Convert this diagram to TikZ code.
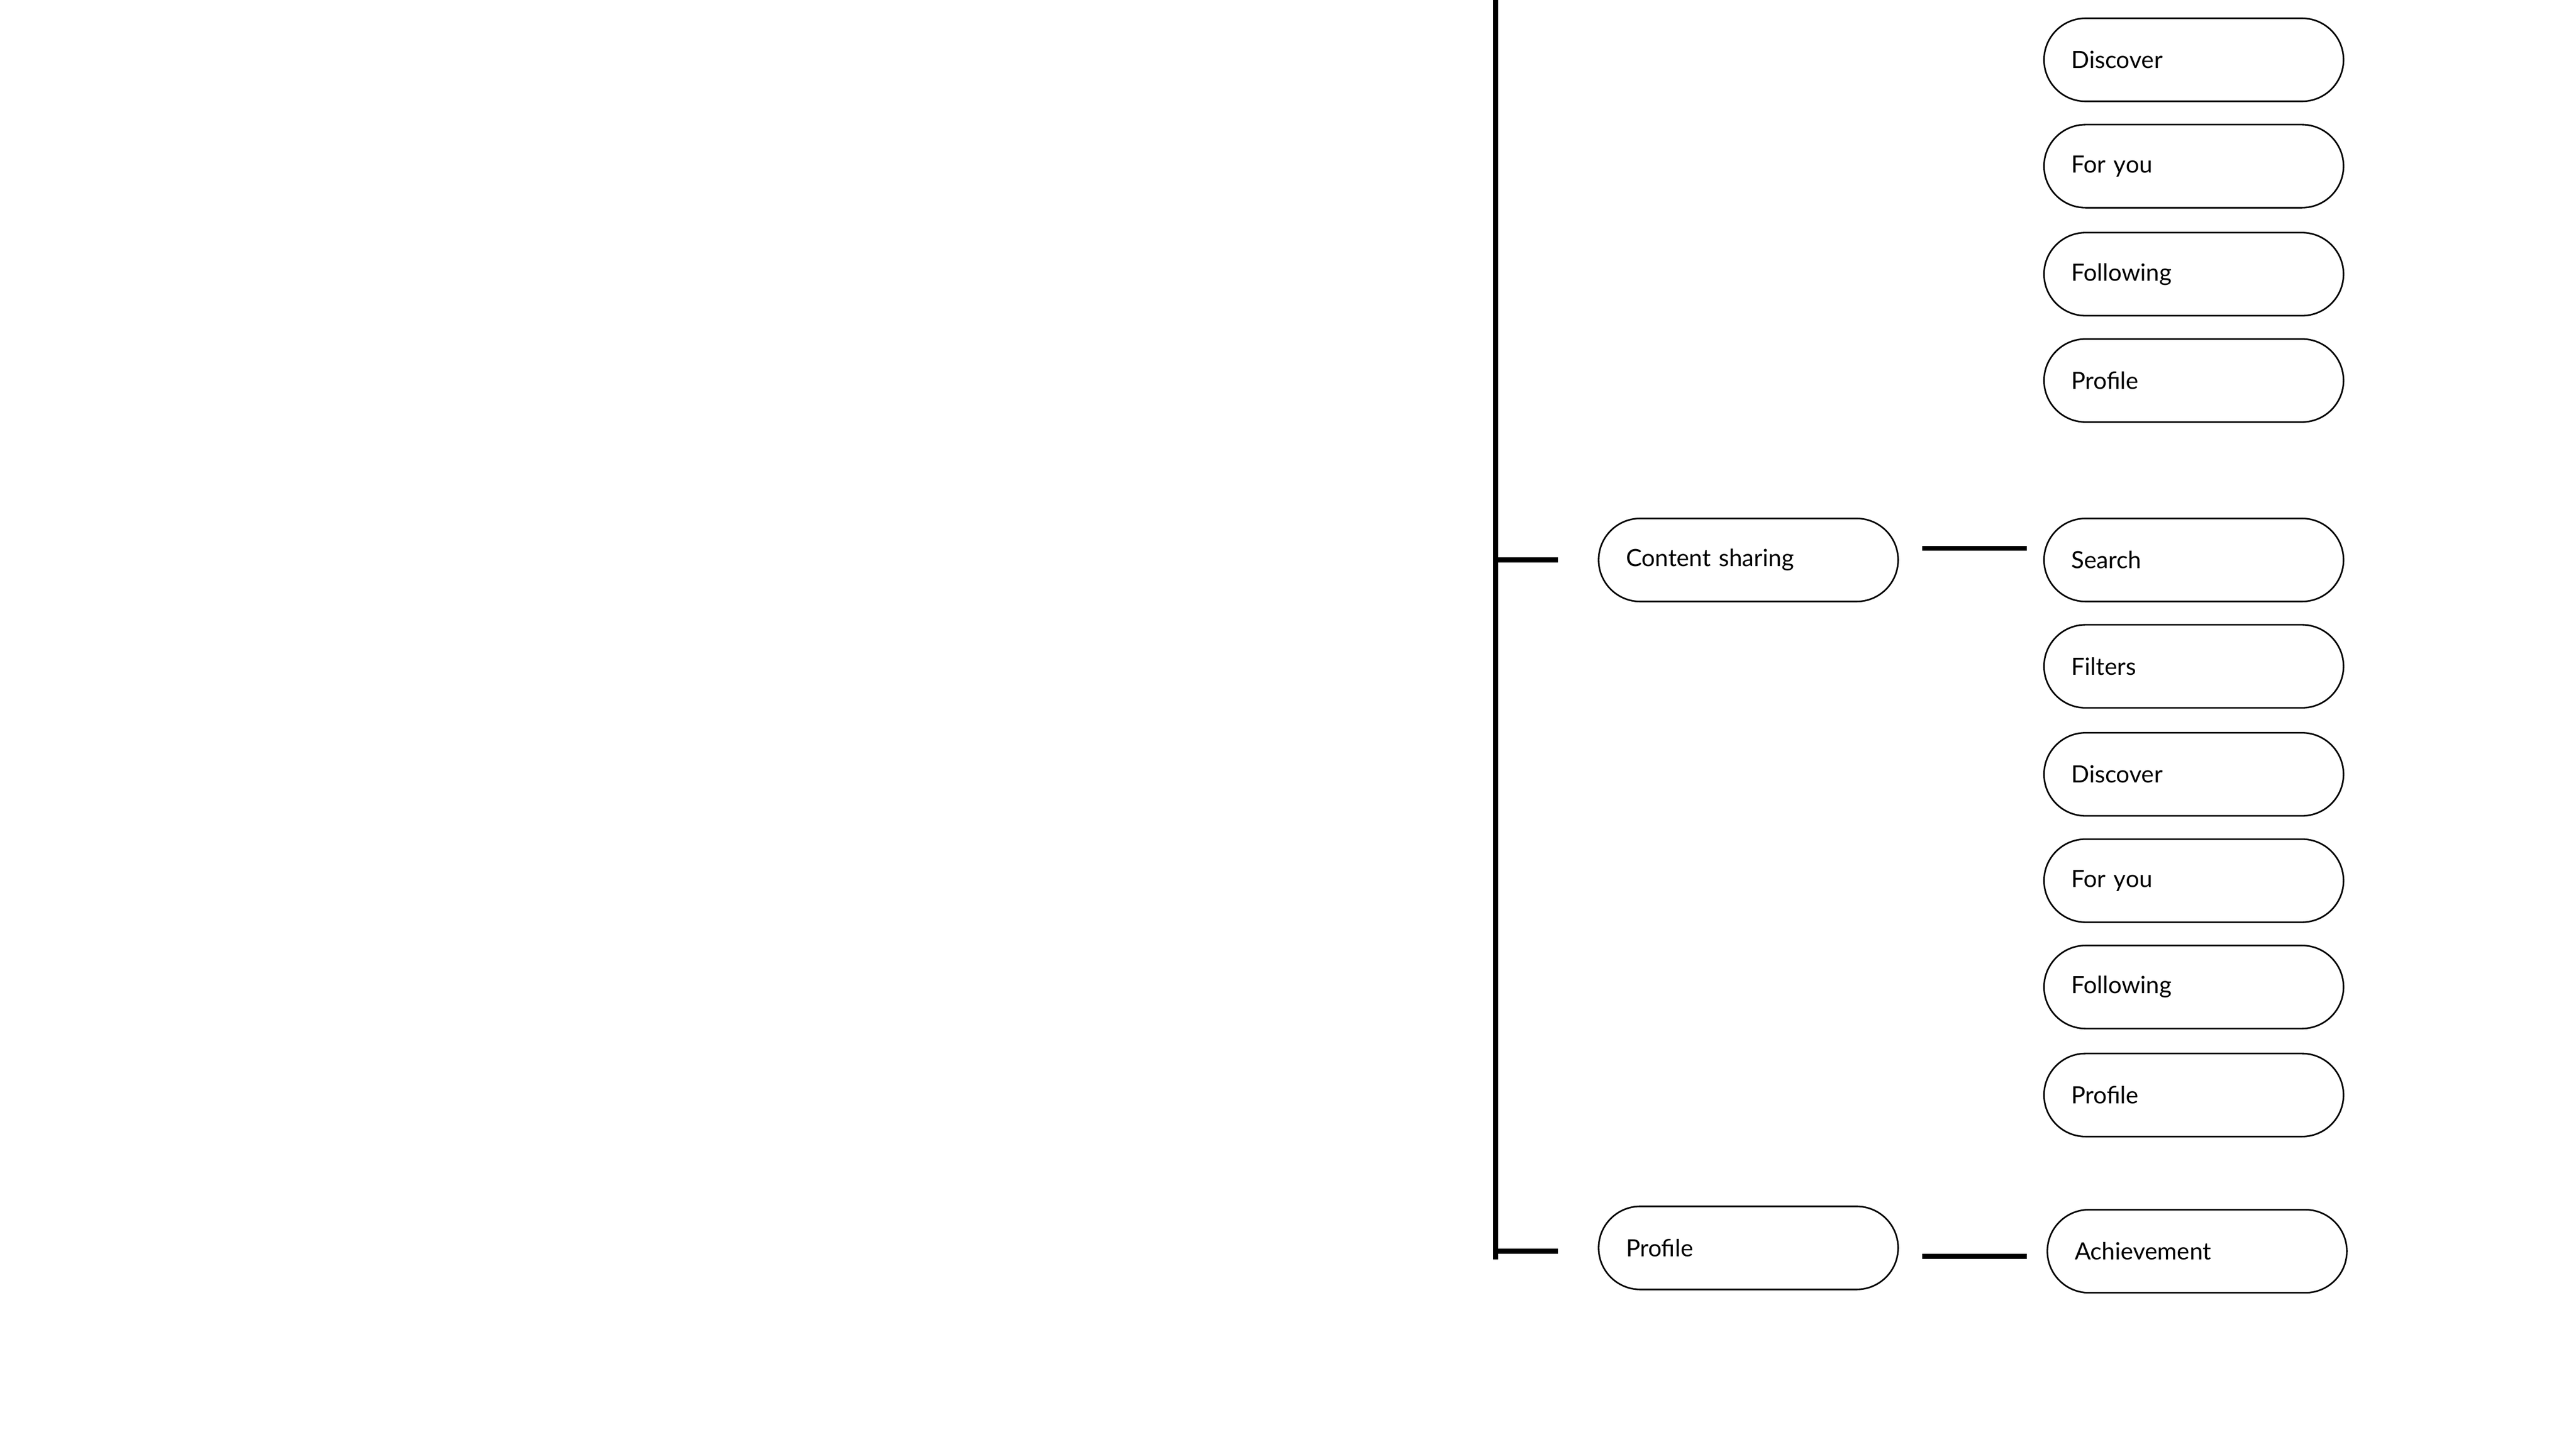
\documentclass[tikz,border=0pt]{standalone}
\usepackage{fontspec}
\setmainfont{Lato}
\usetikzlibrary{positioning}
\tikzset{pill/.style={rectangle, rounded corners=1.29cm, draw=black, line width=1.4pt, minimum height=2.58cm, text width=7.6cm, inner xsep=0.85cm, align=left, font=\fontsize{21}{25}\selectfont}}
\tikzset{branch/.style={line width=4.5pt}}
\begin{document}
\begin{tikzpicture}[x=0.0516cm, y=-0.0516cm]
    \useasboundingbox (0,0) rectangle (1550,872);

    \coordinate (top) at (900,0);
    \coordinate (bottom) at (900,758);
    \coordinate (j1) at (900,337);
    \coordinate (j2) at (900,753);

    \node (share) [pill] at (1052,337) {Content sharing};
    \node (profile) [pill] at (1052,751) {Profile};

    \node (discoverA) [pill] at (1320,36) {Discover};
    \node (foryouA) [pill] at (1320,100) {For you};
    \node (followingA) [pill] at (1320,165) {Following};
    \node (profileA) [pill] at (1320,229) {Profile};

    \node (search) [pill] at (1320,337) {Search};
    \node (filters) [pill] at (1320,401) {Filters};
    \node (discoverB) [pill] at (1320,466) {Discover};
    \node (foryouB) [pill] at (1320,530) {For you};
    \node (followingB) [pill] at (1320,594) {Following};
    \node (profileB) [pill] at (1320,659) {Profile};

    \node (achieve) [pill] at (1322,753) {Achievement};

    \draw [branch] (top) -- (bottom);
    \draw [branch] (j1) -- ([xshift=-24*0.0516cm]share.west);
    \draw [branch] (j2) -- ([xshift=-24*0.0516cm]profile.west |- j2);
    \draw [branch] ([xshift=14*0.0516cm, yshift=7*0.0516cm]share.east) -- ([xshift=-10*0.0516cm, yshift=7*0.0516cm]search.west);
    \draw [branch] ([xshift=14*0.0516cm, yshift=-5*0.0516cm]profile.east) -- ([xshift=-12*0.0516cm, yshift=-3*0.0516cm]achieve.west);

\end{tikzpicture}
\end{document}
